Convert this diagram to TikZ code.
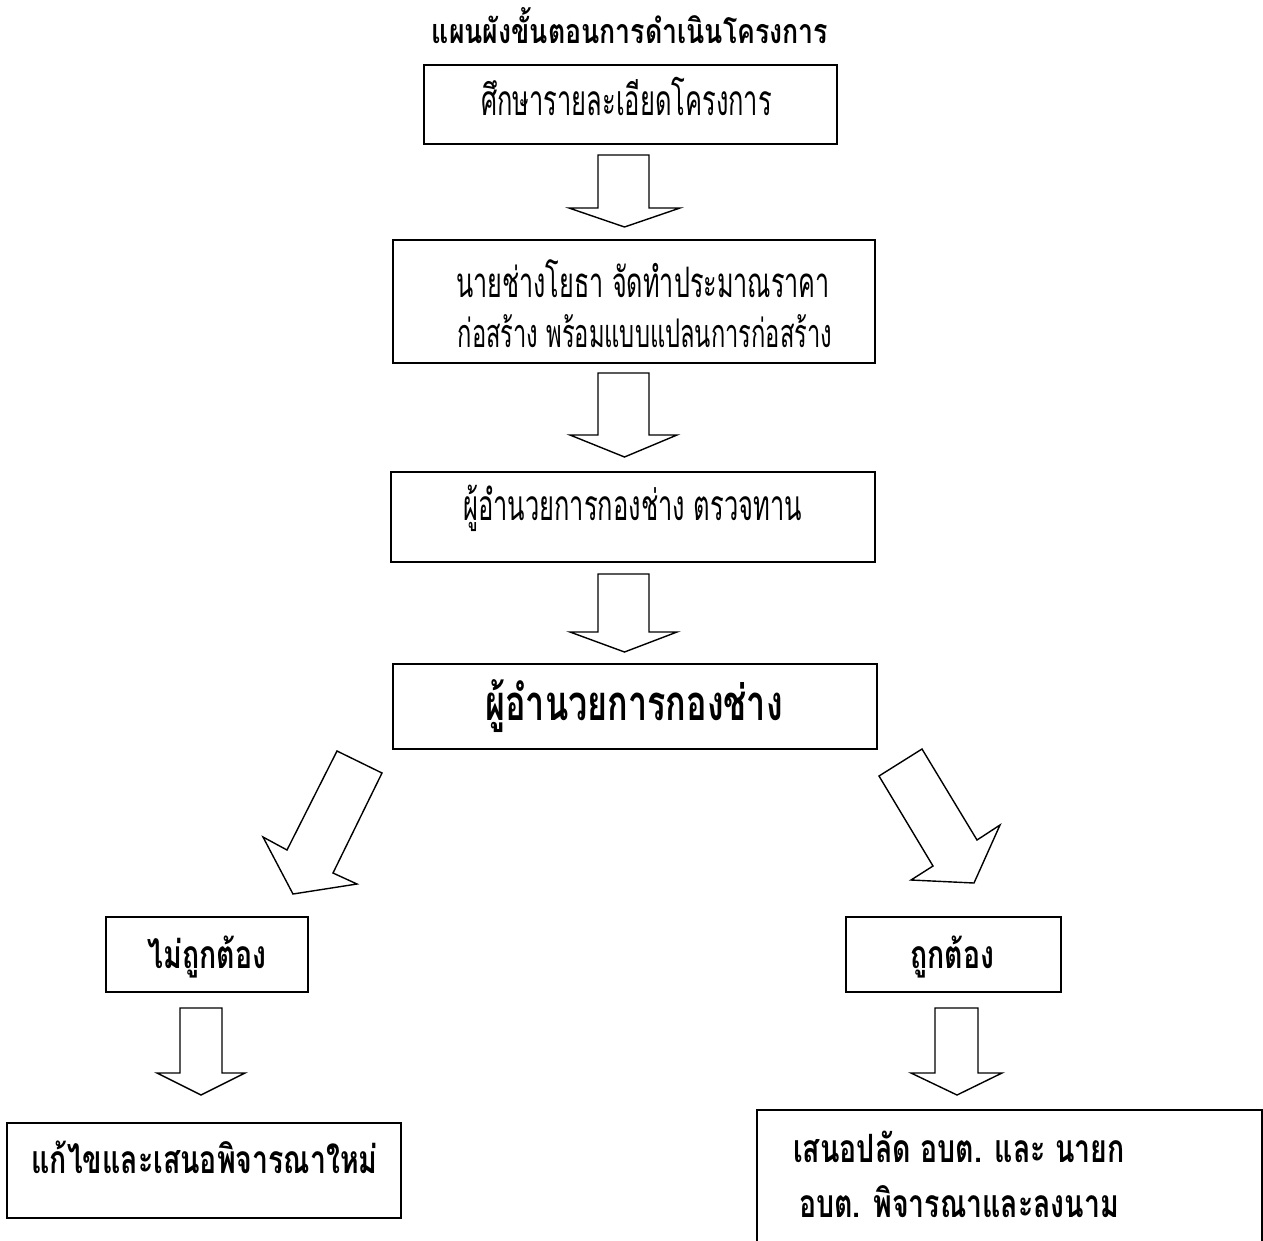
\documentclass[tikz,border=0pt]{standalone}
\usepackage{fontspec}
\newfontfamily\thaicond[Script=Thai,FakeStretch=0.6]{Loma}
\newfontfamily\thaimid[Script=Thai,FakeStretch=0.73]{Loma}
\newfontfamily\thaibig[Script=Thai,FakeStretch=0.697]{Loma}
\newfontfamily\thaititle[Script=Thai,FakeStretch=0.785]{Loma}
\begin{document}
\begin{tikzpicture}[x=1pt,y=-1pt,
  box/.style={draw,line width=1.8pt,rectangle,inner sep=0pt},
  txt/.style={font=\thaicond\fontsize{42.5}{42.5}\selectfont,inner sep=0pt,anchor=base},
  txtone/.style={font=\thaicond\fontsize{42}{42}\selectfont,inner sep=0pt,anchor=base},
  txttwo/.style={font=\thaicond\fontsize{39.5}{39.5}\selectfont,inner sep=0pt,anchor=base},
  midtxt/.style={font=\thaimid\bfseries\fontsize{39}{39}\selectfont,inner sep=0pt,anchor=base},
  bigtxt/.style={font=\thaibig\bfseries\fontsize{49}{49}\selectfont,inner sep=0pt,anchor=base},
  titletxt/.style={font=\thaititle\bfseries\fontsize{34}{34}\selectfont,inner sep=0pt,anchor=base},
  blockarrow/.style={draw,line width=1.4pt,line join=miter,fill=white}]
\useasboundingbox (0,0) rectangle (1263,1240);
\fill[white] (0,0) rectangle (1263,1240);

\node[titletxt] (title) at (630,43) {แผนผังขั้นตอนการดำเนินโครงการ};

\node[box,minimum width=413pt,minimum height=79pt] (b1) at (630.5,104.5) {};
\node[txt] (t1) at (626.5,115) {ศึกษารายละเอียดโครงการ};

\node[box,minimum width=482pt,minimum height=123pt] (b2) at (634,301.5) {};
\node[txtone] (t2a) at (643,297) {นายช่างโยธา จัดทำประมาณราคา};
\node[txttwo] (t2b) at (645,347) {ก่อสร้าง พร้อมแบบแปลนการก่อสร้าง};

\node[box,minimum width=484pt,minimum height=90pt] (b3) at (633,517) {};
\node[txt] (t3) at (632.5,520) {ผู้อำนวยการกองช่าง ตรวจทาน};

\node[box,minimum width=484pt,minimum height=85pt] (b4) at (635,706.5) {};
\node[bigtxt] (t4) at (634,720) {ผู้อำนวยการกองช่าง};

\node[box,minimum width=202pt,minimum height=75pt] (b5) at (207,954.5) {};
\node[midtxt] (t5) at (207,968) {ไม่ถูกต้อง};

\node[box,minimum width=215pt,minimum height=75pt] (b6) at (953.5,954.5) {};
\node[midtxt] (t6) at (952.5,968) {ถูกต้อง};

\node[box,minimum width=394pt,minimum height=95pt] (b7) at (204,1170.5) {};
\node[midtxt] (t7) at (204.5,1173) {แก้ไขและเสนอพิจารณาใหม่};

\node[box,minimum width=505pt,minimum height=150pt] (b8) at (1009.5,1185) {};
\node[midtxt] (t8a) at (959,1162) {เสนอปลัด อบต. และ นายก};
\node[midtxt] (t8b) at (959,1217) {อบต. พิจารณาและลงนาม};

% vertical block arrows
\draw[blockarrow] (598,155) -- (649,155) -- (649,208) -- (680,208) -- (624.5,227) -- (569,208) -- (598,208) -- cycle;
\draw[blockarrow] (598,373) -- (649,373) -- (649,435) -- (677,435) -- (624.5,457) -- (570,435) -- (598,435) -- cycle;
\draw[blockarrow] (598,574) -- (649,574) -- (649,632) -- (677,632) -- (624.5,652) -- (570,632) -- (598,632) -- cycle;
\draw[blockarrow] (180,1008) -- (222,1008) -- (222,1073) -- (245,1073) -- (201,1095) -- (157,1073) -- (180,1073) -- cycle;
\draw[blockarrow] (935,1008) -- (978,1008) -- (978,1073) -- (1002,1073) -- (957,1095) -- (911,1073) -- (935,1073) -- cycle;

% diagonal block arrows
\draw[blockarrow] (337,751) -- (382,773) -- (333,873) -- (357,884) -- (293,894) -- (263,837) -- (287,850) -- cycle;
\draw[blockarrow] (922,749) -- (977,840) -- (1000,825) -- (974,883) -- (911,880) -- (933,866) -- (879,776) -- cycle;
\end{tikzpicture}
\end{document}
